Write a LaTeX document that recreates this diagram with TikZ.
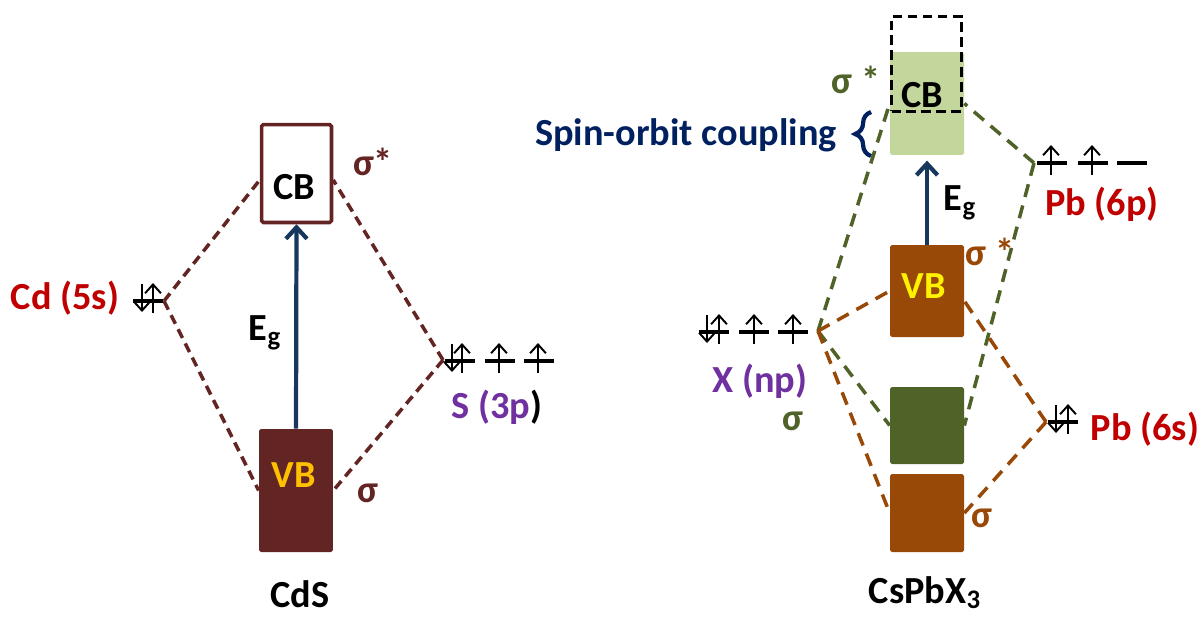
\documentclass[tikz,border=0pt]{standalone}
\usepackage{fontspec}
\setmainfont{Carlito}
\usetikzlibrary{arrows.meta,calc,decorations.pathreplacing}

\definecolor{cdsred}{HTML}{632523}
\definecolor{lblred}{HTML}{C00000}
\definecolor{lblpurple}{HTML}{7030A0}
\definecolor{navyarrow}{HTML}{17375E}
\definecolor{navytext}{HTML}{002060}
\definecolor{vbgold}{HTML}{FFC000}
\definecolor{pbbrown}{HTML}{984807}
\definecolor{olive}{HTML}{4F6228}
\definecolor{lightolive}{HTML}{C3D69B}

% energy levels and spins (x, y of the left end / of the arrow)
\newcommand{\lvl}[2]{\draw[lvl] (#1,#2) -- ++(30,0);}
\newcommand{\spinup}[2]{\draw[spin] (#1,#2+12) -- (#1,#2-18);}
\newcommand{\spindn}[2]{\draw[spin] (#1,#2-17) -- (#1,#2+11);}

\tikzset{
  txt/.style={font=\bfseries\fontsize{21.8}{25}\selectfont, inner sep=0pt, anchor=base},
  lvl/.style={line width=2pt},
  spin/.style={line width=1.1pt, -{Straight Barb[length=5pt,width=9pt]}},
  egarrow/.style={navyarrow, line width=2.4pt, -{Straight Barb[length=6.5pt,width=12pt]}},
  bond/.style={line width=2pt, dash pattern=on 5.5pt off 3.5pt},
  bondlong/.style={line width=2pt, dash pattern=on 7.5pt off 5pt},
  band/.style={minimum width=1.48cm, rounded corners=1pt, inner sep=0pt},
}

\begin{document}
\begin{tikzpicture}[x=0.02cm, y=-0.02cm]
  \useasboundingbox (0,0) rectangle (1202,620);

  % CdS
  \node[band, draw=cdsred, line width=2pt, minimum width=1.40cm, minimum height=1.96cm] (cbL) at (296.5,173.5) {};
  \node[band, fill=cdsred, minimum height=2.46cm] (vbL) at (296,490.5) {};
  \coordinate (cd) at (164,301);
  \coordinate (s3p) at (443,360);

  \draw[bond, cdsred] (cd) -- (cbL.190);
  \draw[bond, cdsred] (cd) -- (vbL.west);
  \draw[bond, cdsred] (s3p) -- (cbL.350);
  \draw[bond, cdsred] (s3p) -- (vbL.east);
  \draw[egarrow] (vbL.north) -- (cbL.south);

  \lvl{133}{301} \spindn{142}{301} \spinup{153}{301}
  \lvl{445}{361} \spindn{452}{361} \spinup{462}{361}
  \lvl{485}{361} \spinup{499}{361}
  \lvl{524}{361} \spinup{538}{361}

  \node[txt] (cbLtxt) at (294,199) {CB};
  \node[txt, vbgold] (vbLtxt) at (294,487) {VB};
  \node[txt, cdsred] (sstarL) at (373,175) {σ*};
  \node[txt, cdsred] (sigL) at (368,502) {σ};
  \node[txt] (egL) at (265,340) {E\textsubscript{g}};
  \node[txt, lblred] (cdlbl) at (65,309) {Cd (5s)};
  \node[txt, lblpurple] (slbl) at (497,418) {S (3p\textcolor{black}{)}};
  \node[txt] (cds) at (300,607) {CdS};

  % CsPbX3
  \node[band, fill=lightolive, minimum height=2.06cm] (cbR) at (927,103.5) {};
  \node[draw, line width=2.2pt, dash pattern=on 5.5pt off 3pt, minimum width=1.40cm, minimum height=1.90cm, inner sep=0pt] (socbox) at (926.5,64) {};
  \node[band, fill=pbbrown, minimum height=1.84cm] (vbR) at (927,291) {};
  \node[band, fill=olive, minimum height=1.54cm] (gb) at (927,425.5) {};
  \node[band, fill=pbbrown, minimum height=1.56cm] (sb) at (927,513) {};
  \coordinate (xnp) at (818,331);
  \coordinate (pb6p) at (1034,163);
  \coordinate (pb6s) at (1046,422);

  \draw[bondlong, olive] (xnp) -- (cbR.west);
  \draw[bondlong, olive] (xnp) -- (gb.west);
  \draw[bondlong, olive] (pb6p) -- (cbR.east);
  \draw[bondlong, olive] (pb6p) -- (gb.east);
  \draw[bondlong, pbbrown] (xnp) -- (vbR.west);
  \draw[bondlong, pbbrown] (xnp) -- (sb.west);
  \draw[bondlong, pbbrown] (pb6s) -- (vbR.-15);
  \draw[bondlong, pbbrown] (pb6s) -- (sb.east);
  \draw[egarrow, shorten >=3pt] (vbR.north) -- (cbR.south);

  \lvl{699}{332} \spindn{707}{332} \spinup{719}{332}
  \lvl{739}{332} \spinup{754}{332}
  \lvl{778}{332} \spinup{793}{332}
  \lvl{1037}{163} \spinup{1051}{163}
  \lvl{1078}{163} \spinup{1092}{163}
  \lvl{1117}{163}
  \lvl{1048}{422} \spindn{1056}{422} \spinup{1068}{422}

  \draw[navytext, line width=2.4pt, decorate, decoration={brace, amplitude=9pt}] (871,156) -- (871,112);

  \node[txt] (cbRtxt) at (922,107) {CB};
  \node[txt, yellow] (vbRtxt) at (924,298) {VB};
  \node[txt, olive] (sstarR) at (856,93) {σ *};
  \node[txt, pbbrown] (sstarV) at (990,265) {σ *};
  \node[txt, olive] (sigG) at (793,430) {σ};
  \node[txt, pbbrown] (sigB) at (982,527) {σ};
  \node[txt] (egR) at (960,210) {E\textsubscript{g}};
  \node[txt, navytext] (soc) at (686,145) {Spin-orbit coupling};
  \node[txt, lblpurple] (xlbl) at (760,392) {X (np)};
  \node[txt, lblred] (pbp) at (1102,215) {Pb (6p)};
  \node[txt, lblred] (pbs) at (1145,440) {Pb (6s)};
  \node[txt] (cspbx) at (925,603) {CsPbX\textsubscript{3}};
\end{tikzpicture}
\end{document}
